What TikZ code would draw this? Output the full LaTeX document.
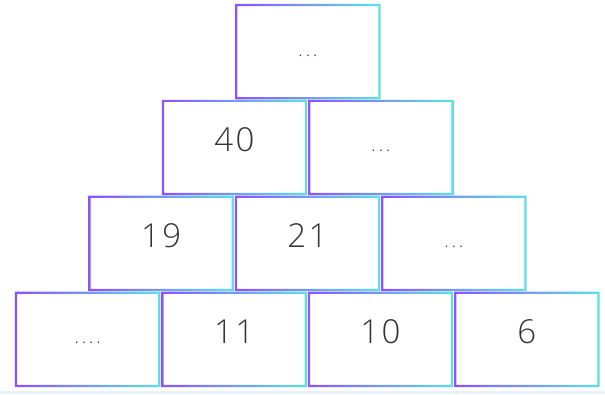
\documentclass[tikz,border=0pt]{standalone}
\usepackage{fontspec}
\setmainfont{Open Sans}[UprightFont=* Light]
\usetikzlibrary{positioning,calc}
\definecolor{PyrPurple}{HTML}{8C52FF}
\definecolor{PyrCyan}{HTML}{5CE1E6}
\definecolor{PyrText}{HTML}{333333}
\definecolor{PyrStrip}{HTML}{E8F1FB}
\newcommand{\dts}[1]{{\fontsize{18}{18}\selectfont #1}}
\newcommand{\sep}{\hspace{3pt}}

\begin{document}
\begin{tikzpicture}[
  c/.style={minimum width=145pt,minimum height=95pt,inner sep=0pt,text height=9pt,text depth=0pt,
    text=PyrText,font=\fontsize{33}{33}\selectfont}]
  % bottom row
  \node[c] (b1) {\dts{.\sep.\sep.\sep.}};
  \node[c,right=1pt of b1] (b2) {1\kern2.5pt1};
  \node[c,right=1pt of b2] (b3) {1\kern2.5pt0};
  \node[c,right=1pt of b3] (b4) {6};
  % third row
  \node[c,above right=0.5pt and -72pt of b1] (m1) {1\kern2.5pt9};
  \node[c,right=1pt of m1] (m2) {2\kern2.5pt1};
  \node[c,right=1pt of m2] (m3) {\dts{.\sep.\sep.}};
  % second row
  \node[c,above right=0.5pt and -72pt of m1] (t1) {4\kern2.5pt0};
  \node[c,right=1pt of t1] (t2) {\dts{.\sep.\sep.}};
  % top
  \node[c,above right=0.5pt and -72pt of t1] (top) {\dts{.\sep.\sep.}};
  \useasboundingbox ($(b1.south west)+(-15pt,-7pt)$) rectangle ++(605pt,394pt);
  \fill[PyrStrip] ($(b1.south west)+(-15pt,-7pt)$) rectangle ++(605pt,3pt);
  \foreach \n in {b1,b2,b3,b4,m1,m2,m3,t1,t2,top}
    \shade[even odd rule,left color=PyrPurple,right color=PyrCyan]
      (\n.south west) rectangle (\n.north east)
      ($(\n.south west)+(2.2pt,2.2pt)$) rectangle ($(\n.north east)-(2.2pt,2.2pt)$);
\end{tikzpicture}
\end{document}
